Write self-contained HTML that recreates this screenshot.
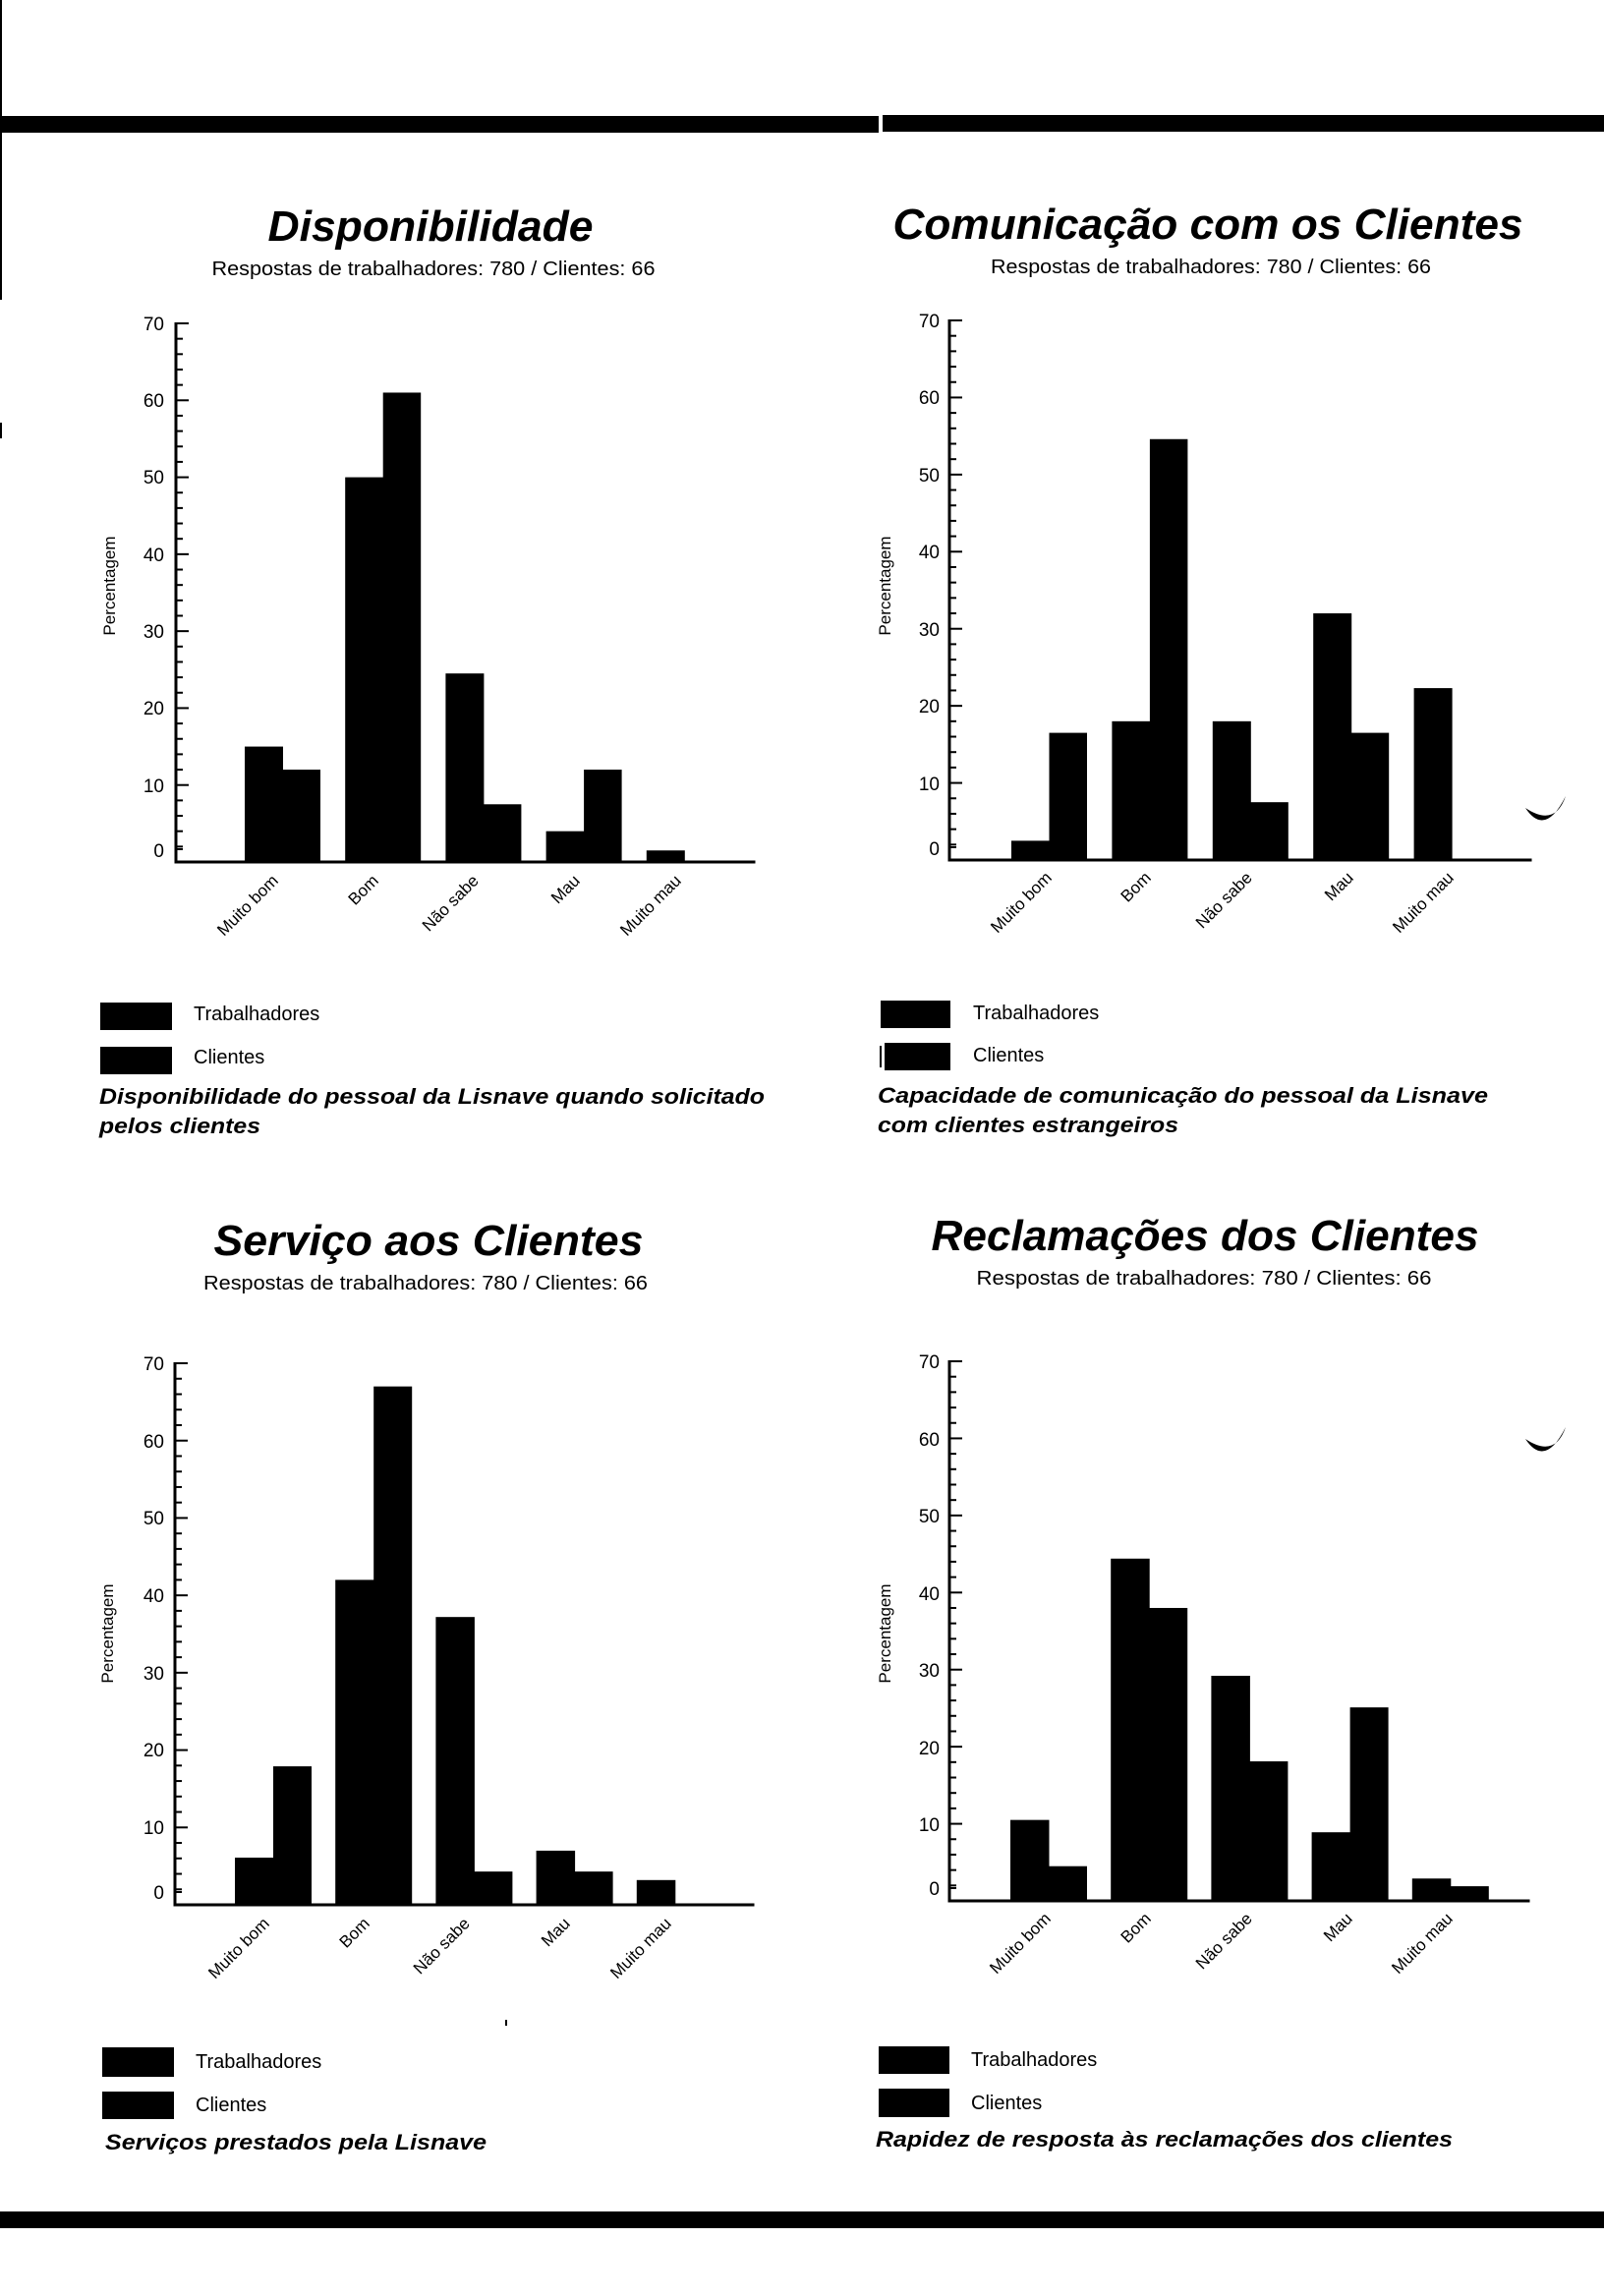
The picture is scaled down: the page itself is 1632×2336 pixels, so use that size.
<!DOCTYPE html>
<html><head><meta charset="utf-8"><style>
html,body{margin:0;padding:0;background:#fff;}
svg{display:block;}
text{font-family:"Liberation Sans",sans-serif;fill:#000;}
.t{font-weight:bold;font-style:italic;font-size:44px;}
.s{font-size:20px;}
.n{font-size:19px;}
.p{font-size:17px;}
.c{font-size:17px;}
.l{font-size:20px;}
.cap{font-weight:bold;font-style:italic;font-size:22px;}
</style></head><body>
<svg id="s" width="1632" height="2336" viewBox="0 0 1632 2336" xmlns="http://www.w3.org/2000/svg">
<rect width="1632" height="2336" fill="#fff"/>
<rect x="0" y="118" width="894" height="17" fill="#000"/>
<rect x="898" y="117" width="734" height="17" fill="#000"/>
<rect x="0" y="0" width="2" height="305" fill="#000"/>
<rect x="0" y="430" width="2" height="16" fill="#000"/>
<rect x="0" y="2250" width="1632" height="17" fill="#000"/>
<path d="M1552 822 Q1572 852 1593 810 Q1582 842 1552 822 Z" fill="#000"/>
<path d="M1552 1464 Q1572 1494 1593 1452 Q1582 1484 1552 1464 Z" fill="#000"/>
<rect x="514" y="2055" width="2" height="6" fill="#000"/>

<!-- TL -->
<text class="t" x="438" y="245" text-anchor="middle" textLength="331" lengthAdjust="spacingAndGlyphs">Disponibilidade</text>
<text class="s" x="441" y="280" text-anchor="middle" textLength="451" lengthAdjust="spacingAndGlyphs">Respostas de trabalhadores: 780 / Clientes: 66</text>
<g class="n" text-anchor="end">
<text x="167" y="336">70</text><text x="167" y="414">60</text><text x="167" y="492">50</text><text x="167" y="571">40</text><text x="167" y="649">30</text><text x="167" y="727">20</text><text x="167" y="806">10</text><text x="167" y="872">0</text>
</g>
<text class="p" transform="translate(117,596) rotate(-90)" text-anchor="middle">Percentagem</text>
<g class="c" text-anchor="end">
<text transform="translate(284,897) rotate(-45)">Muito bom</text>
<text transform="translate(386,897) rotate(-45)">Bom</text>
<text transform="translate(488,897) rotate(-45)">Não sabe</text>
<text transform="translate(591,897) rotate(-45)">Mau</text>
<text transform="translate(694,897) rotate(-45)">Muito mau</text>
</g>
<rect x="102" y="1020" width="73" height="28" fill="#000"/>
<rect x="102" y="1065" width="73" height="28" fill="#000"/>
<text class="l" x="197" y="1038">Trabalhadores</text>
<text class="l" x="197" y="1082">Clientes</text>
<text class="cap" x="101" y="1123" textLength="677" lengthAdjust="spacingAndGlyphs">Disponibilidade do pessoal da Lisnave quando solicitado</text>
<text class="cap" x="101" y="1153" textLength="164" lengthAdjust="spacingAndGlyphs">pelos clientes</text>

<!-- TR -->
<text class="t" x="1229" y="243" text-anchor="middle" textLength="641" lengthAdjust="spacingAndGlyphs">Comunicação com os Clientes</text>
<text class="s" x="1232" y="278" text-anchor="middle" textLength="448" lengthAdjust="spacingAndGlyphs">Respostas de trabalhadores: 780 / Clientes: 66</text>
<g class="n" text-anchor="end">
<text x="956" y="333">70</text><text x="956" y="411">60</text><text x="956" y="490">50</text><text x="956" y="568">40</text><text x="956" y="647">30</text><text x="956" y="725">20</text><text x="956" y="804">10</text><text x="956" y="870">0</text>
</g>
<text class="p" transform="translate(906,596) rotate(-90)" text-anchor="middle">Percentagem</text>
<g class="c" text-anchor="end">
<text transform="translate(1071,894) rotate(-45)">Muito bom</text>
<text transform="translate(1172,894) rotate(-45)">Bom</text>
<text transform="translate(1275,894) rotate(-45)">Não sabe</text>
<text transform="translate(1378,894) rotate(-45)">Mau</text>
<text transform="translate(1480,894) rotate(-45)">Muito mau</text>
</g>
<rect x="896" y="1018" width="71" height="28" fill="#000"/>
<rect x="900" y="1061" width="67" height="28" fill="#000"/>
<rect x="895" y="1064" width="2" height="22" fill="#000"/>
<text class="l" x="990" y="1037">Trabalhadores</text>
<text class="l" x="990" y="1080">Clientes</text>
<text class="cap" x="893" y="1122" textLength="621" lengthAdjust="spacingAndGlyphs">Capacidade de comunicação do pessoal  da Lisnave</text>
<text class="cap" x="893" y="1152" textLength="306" lengthAdjust="spacingAndGlyphs">com clientes estrangeiros</text>

<!-- BL -->
<text class="t" x="436" y="1277" text-anchor="middle" textLength="437" lengthAdjust="spacingAndGlyphs">Serviço aos Clientes</text>
<text class="s" x="433" y="1312" text-anchor="middle" textLength="452" lengthAdjust="spacingAndGlyphs">Respostas de trabalhadores: 780 / Clientes: 66</text>
<g class="n" text-anchor="end">
<text x="167" y="1394">70</text><text x="167" y="1473">60</text><text x="167" y="1551">50</text><text x="167" y="1630">40</text><text x="167" y="1709">30</text><text x="167" y="1787">20</text><text x="167" y="1866">10</text><text x="167" y="1932">0</text>
</g>
<text class="p" transform="translate(115,1662) rotate(-90)" text-anchor="middle">Percentagem</text>
<g class="c" text-anchor="end">
<text transform="translate(275,1958) rotate(-45)">Muito bom</text>
<text transform="translate(377,1958) rotate(-45)">Bom</text>
<text transform="translate(479,1958) rotate(-45)">Não sabe</text>
<text transform="translate(581,1958) rotate(-45)">Mau</text>
<text transform="translate(684,1958) rotate(-45)">Muito mau</text>
</g>
<rect x="104" y="2083" width="73" height="30" fill="#000"/>
<rect x="104" y="2128" width="73" height="28" fill="#000"/>
<text class="l" x="199" y="2104">Trabalhadores</text>
<text class="l" x="199" y="2148">Clientes</text>
<text class="cap" x="107" y="2187" textLength="388" lengthAdjust="spacingAndGlyphs">Serviços prestados pela Lisnave</text>

<!-- BR -->
<text class="t" x="1226" y="1272" text-anchor="middle" textLength="557" lengthAdjust="spacingAndGlyphs">Reclamações dos Clientes</text>
<text class="s" x="1225" y="1307" text-anchor="middle" textLength="463" lengthAdjust="spacingAndGlyphs">Respostas de trabalhadores: 780 / Clientes: 66</text>
<g class="n" text-anchor="end">
<text x="956" y="1392">70</text><text x="956" y="1471">60</text><text x="956" y="1549">50</text><text x="956" y="1628">40</text><text x="956" y="1706">30</text><text x="956" y="1785">20</text><text x="956" y="1863">10</text><text x="956" y="1928">0</text>
</g>
<text class="p" transform="translate(906,1662) rotate(-90)" text-anchor="middle">Percentagem</text>
<g class="c" text-anchor="end">
<text transform="translate(1070,1953) rotate(-45)">Muito bom</text>
<text transform="translate(1172,1953) rotate(-45)">Bom</text>
<text transform="translate(1275,1953) rotate(-45)">Não sabe</text>
<text transform="translate(1377,1953) rotate(-45)">Mau</text>
<text transform="translate(1479,1953) rotate(-45)">Muito mau</text>
</g>
<rect x="894" y="2082" width="72" height="28" fill="#000"/>
<rect x="894" y="2125" width="72" height="29" fill="#000"/>
<text class="l" x="988" y="2102">Trabalhadores</text>
<text class="l" x="988" y="2146">Clientes</text>
<text class="cap" x="891" y="2184" textLength="587" lengthAdjust="spacingAndGlyphs">Rapidez de resposta às reclamações dos clientes</text>

<g id="g"></g>
</svg>
<script>
var charts=[
 {ax:179,top:329,zero:877,end:770,x0:249,sp:102.2,w:38.5,
  T:[15,50,24.5,4,1.5],C:[12,61,7.5,12,0]},
 {ax:966,top:326,zero:875,end:1560,x0:1029,sp:102.4,w:38.5,
  T:[2.5,18,18,32,22.3],C:[16.5,54.6,7.5,16.5,0]},
 {ax:178,top:1387,zero:1938,end:769,x0:239,sp:102.2,w:39,
  T:[6.1,42,37.2,7,3.2],C:[17.9,67,4.3,4.3,0]},
 {ax:966,top:1385,zero:1934,end:1558,x0:1028,sp:102.2,w:39,
  T:[10.5,44.4,29.2,8.9,2.9],C:[4.5,38,18.1,25.1,1.9]}
];
var ns="http://www.w3.org/2000/svg",g=document.getElementById("g");
function r(x,y,w,h){var e=document.createElementNS(ns,"rect");e.setAttribute("x",x);e.setAttribute("y",y);e.setAttribute("width",w);e.setAttribute("height",h);e.setAttribute("fill","#000");g.appendChild(e);}
charts.forEach(function(c){
 var s=(c.zero-c.top)/70;
 r(c.ax-1.5,c.top-1,3,c.zero-c.top+2);
 r(c.ax-1.5,c.zero-1.5,c.end-c.ax,3);
 for(var v=2;v<=70;v+=2){var y=c.zero-v*s;var L=(v%10==0)?13:7;r(c.ax,y-1,L,2);}
 r(c.ax,c.zero-14,7,2);
 for(var i=0;i<5;i++){
  var x=c.x0+i*c.sp;
  if(c.T[i]>0)r(x,c.zero-c.T[i]*s,c.w+0.5,c.T[i]*s);
  if(c.C[i]>0)r(x+c.w,c.zero-c.C[i]*s,c.w,c.C[i]*s);
 }
});
</script>
</body></html>
